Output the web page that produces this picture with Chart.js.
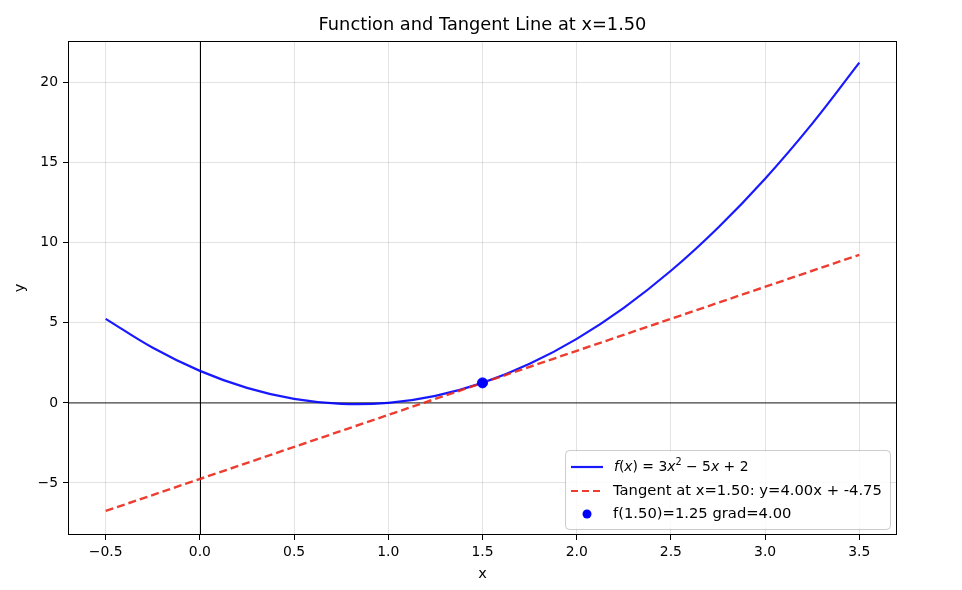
<!DOCTYPE html>
<html>
<head>
<meta charset="utf-8">
<script src="https://cdn.jsdelivr.net/npm/chart.js@4.4.1/dist/chart.umd.min.js"></script>
<style>
  html, body { margin: 0; padding: 0; background: #fff; }
  #wrap { width: 962px; height: 590px; }
</style>
</head>
<body>
<div id="wrap"><canvas id="c" width="962" height="590"></canvas></div>
<script>
// values
const curveX = [-0.5, -0.25, 0, 0.25, 0.5, 0.75, 1.0, 1.25, 1.5, 1.75, 2.0, 2.25, 2.5, 2.75, 3.0, 3.25, 3.5];
const curveY = [5.25, 3.44, 2.0, 0.94, 0.25, -0.06, 0.0, 0.44, 1.25, 2.44, 4.0, 5.94, 8.25, 10.94, 14.0, 17.44, 21.25];
const tangentX = [-0.5, 3.5];
const tangentY = [-6.75, 9.25];
const pointX = [1.5];
const pointY = [1.25];
const xTicks = [-0.5, 0.0, 0.5, 1.0, 1.5, 2.0, 2.5, 3.0, 3.5];
const yTicks = [-5, 0, 5, 10, 15, 20];
const legendLabels = ["f(x) = 3x² − 5x + 2", "Tangent at x=1.50: y=4.00x + -4.75", "f(1.50)=1.25 grad=4.00"];

const BLUE = "rgba(0,0,255,0.9)";
const RED = "rgba(235,40,25,0.9)";
const FONT = "DejaVu Sans";

function pairs(xs, ys) {
    return xs.map((x, i) => ({ x: x, y: ys[i] }));
}

function fmtTick(v, digits) {
    let s = v.toFixed(digits);
    return s.replace("-", "\u2212");
}

const extras = {
    id: "extras",
    beforeDatasetsDraw(chart) {
        const ctx = chart.ctx;
        const xs = chart.scales.x, ys = chart.scales.y;
        const a = chart.chartArea;
        ctx.save();
        // y = 0 line
        ctx.strokeStyle = "rgba(0,0,0,0.5)";
        ctx.lineWidth = 1.6;
        ctx.beginPath();
        ctx.moveTo(a.left, ys.getPixelForValue(0));
        ctx.lineTo(a.right, ys.getPixelForValue(0));
        ctx.stroke();
        // x = 0 line
        ctx.strokeStyle = "#000";
        ctx.lineWidth = 1;
        ctx.beginPath();
        ctx.moveTo(Math.round(xs.getPixelForValue(0)) + 0.5, a.top);
        ctx.lineTo(Math.round(xs.getPixelForValue(0)) + 0.5, a.bottom);
        ctx.stroke();
        ctx.restore();
    },
    afterDraw(chart) {
        const ctx = chart.ctx;
        const a = chart.chartArea;
        ctx.save();
        // frame
        ctx.strokeStyle = "#000";
        ctx.lineWidth = 1;
        ctx.strokeRect(a.left + 0.5, a.top + 0.5, a.right - a.left - 1, a.bottom - a.top - 1);

        // title and axis titles
        ctx.fillStyle = "#000";
        ctx.textAlign = "center";
        ctx.textBaseline = "middle";
        ctx.font = "17.8px " + FONT;
        ctx.fillText("Function and Tangent Line at x=1.50", (a.left + a.right) / 2, 25);
        ctx.font = "14.5px " + FONT;
        ctx.fillText("x", (a.left + a.right) / 2, 574);
        ctx.save();
        ctx.translate(20, (a.top + a.bottom) / 2);
        ctx.rotate(-Math.PI / 2);
        ctx.fillText("y", 0, 0);
        ctx.restore();

        // legend
        const bx = 565, by = 450, bw = 325, bh = 79;
        ctx.fillStyle = "rgba(255,255,255,0.85)";
        ctx.strokeStyle = "rgba(0,0,0,0.2)";
        ctx.lineWidth = 1;
        ctx.beginPath();
        ctx.roundRect(bx + 0.5, by + 0.5, bw, bh, 4);
        ctx.fill();
        ctx.stroke();

        const rows = [467, 491, 514];
        ctx.lineWidth = 2.2;
        ctx.strokeStyle = BLUE;
        ctx.beginPath();
        ctx.moveTo(571, rows[0]);
        ctx.lineTo(603, rows[0]);
        ctx.stroke();
        ctx.strokeStyle = RED;
        ctx.setLineDash([7, 4]);
        ctx.beginPath();
        ctx.moveTo(571, rows[1]);
        ctx.lineTo(603, rows[1]);
        ctx.stroke();
        ctx.setLineDash([]);
        ctx.fillStyle = "blue";
        ctx.beginPath();
        ctx.arc(587, rows[2], 4.5, 0, Math.PI * 2);
        ctx.fill();

        ctx.fillStyle = "#000";
        ctx.textAlign = "left";
        // first label with italic math parts
        let tx = 614;
        const parts = [["f", true], ["(", false], ["x", true], [") = 3", false], ["x", true], ["2", "sup"], [" − 5", false], ["x", true], [" + 2", false]];
        parts.forEach(p => {
            if (p[1] === "sup") {
                ctx.font = "9.7px " + FONT;
                ctx.fillText(p[0], tx, rows[0] - 5);
            } else {
                ctx.font = (p[1] ? "italic " : "") + "13.9px " + FONT;
                ctx.fillText(p[0], tx, rows[0]);
            }
            tx += ctx.measureText(p[0]).width;
        });
        ctx.font = "14.75px " + FONT;
        ctx.fillText(legendLabels[1], 613, rows[1]);
        ctx.fillText(legendLabels[2], 613, rows[2]);
        ctx.restore();
    }
};

const ctx = document.getElementById("c").getContext("2d");
const chart = new Chart(ctx, {
    type: "scatter",
    data: {
        datasets: [
            {
                label: legendLabels[0],
                data: pairs(curveX, curveY),
                showLine: true,
                borderColor: BLUE,
                borderWidth: 2.2,
                pointRadius: 0,
                tension: 0.4,
                order: 2
            },
            {
                label: legendLabels[1],
                data: pairs(tangentX, tangentY),
                showLine: true,
                borderColor: RED,
                borderWidth: 2.4,
                borderDash: [8, 4],
                pointRadius: 0,
                order: 1
            },
            {
                label: legendLabels[2],
                data: pairs(pointX, pointY),
                backgroundColor: "blue",
                borderColor: "blue",
                pointRadius: 5,
                order: 0
            }
        ]
    },
    options: {
        responsive: false,
        animation: false,
        layout: { padding: { top: 41, right: 65, left: 0, bottom: 0 } },
        plugins: {
            legend: { display: false },
            title: { display: false },
            tooltip: { enabled: false }
        },
        scales: {
            x: {
                type: "linear",
                min: -0.7,
                max: 3.7,
                afterBuildTicks: function (axis) {
                    axis.ticks = xTicks.map(v => ({ value: v }));
                },
                afterFit: function (scale) { scale.height = 55; },
                ticks: {
                    color: "#000",
                    font: { family: FONT, size: 13.9 },
                    padding: 4,
                    maxRotation: 0,
                    callback: v => fmtTick(v, 1)
                },
                grid: {
                    color: "rgba(0,0,0,0.11)",
                    tickColor: "#000",
                    tickLength: 5,
                    lineWidth: 1
                },
                border: { display: false }
            },
            y: {
                type: "linear",
                min: -8.25,
                max: 22.6,
                afterBuildTicks: function (axis) {
                    axis.ticks = yTicks.map(v => ({ value: v }));
                },
                afterFit: function (scale) { scale.width = 68; },
                ticks: {
                    color: "#000",
                    font: { family: FONT, size: 13.9 },
                    padding: 5,
                    callback: v => fmtTick(v, 0)
                },
                grid: {
                    color: "rgba(0,0,0,0.11)",
                    tickColor: "#000",
                    tickLength: 5,
                    lineWidth: 1
                },
                border: { display: false }
            }
        }
    },
    plugins: [extras]
});
</script>
</body>
</html>
